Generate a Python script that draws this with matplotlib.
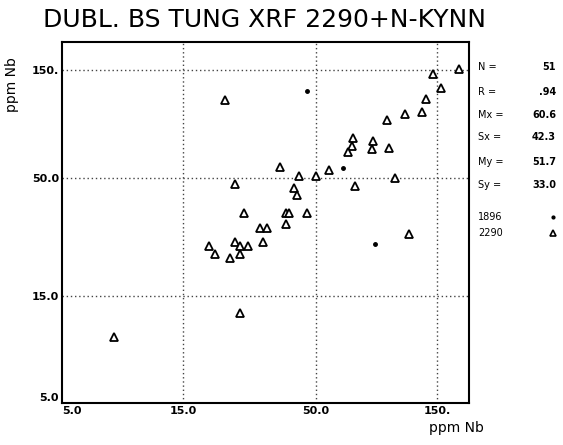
import matplotlib
matplotlib.use('Agg')
import matplotlib.pyplot as plt
from matplotlib.lines import Line2D

# 2290 series (triangles)
x2290 = [182, 145, 155, 135, 131, 112, 95, 70, 69, 67, 84, 83, 97, 36, 56,
         43, 50, 71, 102, 41, 42, 26, 38, 39, 46, 22, 24, 38, 30, 32,
         31, 19, 20, 23, 24, 25, 27, 25, 116, 25, 8]
y2290 = [152, 144, 125, 112, 98, 96, 90, 75, 69, 65, 73, 67, 68, 56, 54,
         51, 51, 46, 50, 45, 42, 35, 35, 35, 35, 110, 47, 31, 30, 30,
         26, 25, 23, 22, 26, 25, 25, 23, 28, 12.5, 9.8]
# 1896 series (dots)
x1896 = [85, 64, 46]
y1896 = [25.5, 55, 121]

ticks = [5, 15, 50, 150]
tick_labels = ['5.0', '15.0', '50.0', '150.']

stat_names = ['N =', 'R =', 'Mx =', 'Sx =', 'My =', 'Sy =']
stat_values = ['51', '.94', '60.6', '42.3', '51.7', '33.0']
legend_names = ['1896', '2290']

fig = plt.figure(figsize=(5.63, 4.45), dpi=100)
ax = fig.add_axes([0.110, 0.094, 0.723, 0.812])
ax.set_xscale('log')
ax.set_yscale('log')
ax.set_xlim(5, 200)
ax.set_ylim(5, 200)

for t in ticks[1:]:
    ax.axvline(t, color='#444444', lw=1, ls=(0, (1, 2)), zorder=1)
    ax.axhline(t, color='#444444', lw=1, ls=(0, (1, 2)), zorder=1)

ax.plot(x2290, y2290, ls='none', marker='^', ms=5.5, mfc='white',
        mec='black', mew=1.3, zorder=3)
ax.plot(x1896, y1896, ls='none', marker='o', ms=2.5, color='black', zorder=3)

ax.set_xticks(ticks)
ax.set_xticklabels(tick_labels, fontsize=8, fontweight='bold')
ax.set_yticks(ticks)
ax.set_yticklabels(tick_labels, fontsize=8, fontweight='bold')
ax.get_xticklabels()[0].set_ha('left')
ax.get_yticklabels()[0].set_va('bottom')
ax.xaxis.set_minor_locator(plt.NullLocator())
ax.yaxis.set_minor_locator(plt.NullLocator())
ax.tick_params(length=0, pad=2)
for s in ax.spines.values():
    s.set_linewidth(1.5)

fig.text(0.47, 0.955, 'DUBL. BS TUNG XRF 2290+N-KYNN', ha='center',
         va='center', fontsize=18)
fig.text(0.022, 0.81, 'ppm Nb', rotation=90, ha='center', va='center',
         fontsize=10)
fig.text(0.81, 0.038, 'ppm Nb', ha='center', va='center', fontsize=10)

row_y = [67, 92, 115, 137, 162, 185]
for name, val, py in zip(stat_names, stat_values, row_y):
    fig.text(478 / 563, 1 - py / 445, name, ha='left', va='center',
             fontsize=7)
    fig.text(556 / 563, 1 - py / 445, val, ha='right', va='center',
             fontsize=7, fontweight='bold')

leg_y = [217, 233]
for name, py in zip(legend_names, leg_y):
    fig.text(478 / 563, 1 - py / 445, name, ha='left', va='center',
             fontsize=7)
fig.add_artist(Line2D([553 / 563], [1 - leg_y[0] / 445], marker='o', ms=2,
                      color='black', transform=fig.transFigure))
fig.add_artist(Line2D([553 / 563], [1 - leg_y[1] / 445], marker='^', ms=5,
                      mfc='white', mec='black', mew=1.2,
                      transform=fig.transFigure))

fig.savefig('out.png', dpi=100)
